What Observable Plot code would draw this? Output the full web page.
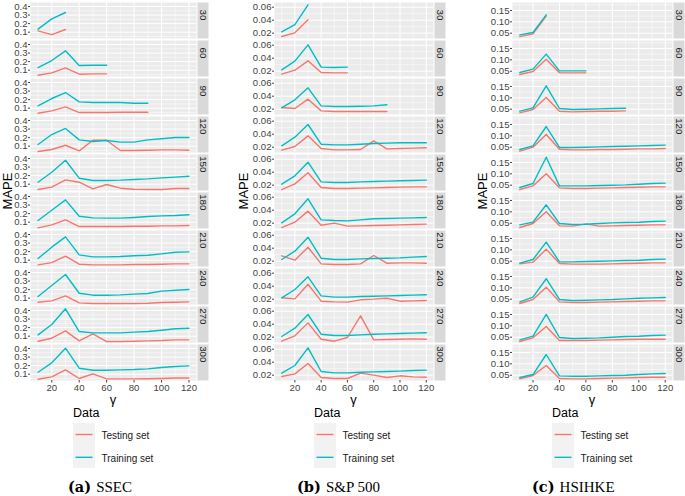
<!DOCTYPE html>
<html>
<head>
<meta charset="utf-8">
<script src="https://cdn.jsdelivr.net/npm/d3@7"></script>
<script src="https://cdn.jsdelivr.net/npm/@observablehq/plot@0.6"></script>
<style>
  body { margin: 0; background: white; }
  #wrap { position: relative; width: 685px; height: 496px; overflow: hidden; font-family: "Liberation Sans", Arial, sans-serif; }
  #wrap svg { position: absolute; top: 0; }
  .t { position: absolute; white-space: nowrap; color: #000; }
</style>
</head>
<body>
<div id="wrap"></div>
<script>
// ---------- data ----------
const gammas = [10, 20, 30, 40, 50, 60, 70, 80, 90, 100, 110, 120];
const windows = [30, 60, 90, 120, 150, 180, 210, 240, 270, 300];
const sets = ["Testing set", "Training set"];
const setColors = ["#F8766D", "#00BFC4"];
const xTicks = [20, 40, 60, 80, 100, 120];
const xMinor = [10, 30, 50, 70, 90, 110];

// SSEC
const ssecTest = [
  [0.115, 0.072, 0.131],
  [0.041, 0.069, 0.127, 0.053, 0.057, 0.057],
  [0.041, 0.069, 0.115, 0.049, 0.049, 0.049, 0.053, 0.053, 0.053],
  [0.037, 0.061, 0.111, 0.045, 0.170, 0.170, 0.049, 0.049, 0.053, 0.057, 0.057, 0.053],
  [0.037, 0.065, 0.150, 0.123, 0.045, 0.096, 0.053, 0.041, 0.037, 0.037, 0.049, 0.049],
  [0.034, 0.069, 0.127, 0.049, 0.049, 0.049, 0.049, 0.053, 0.053, 0.057, 0.057, 0.061],
  [0.045, 0.072, 0.147, 0.053, 0.045, 0.045, 0.045, 0.049, 0.049, 0.053, 0.057, 0.057],
  [0.053, 0.069, 0.127, 0.045, 0.037, 0.037, 0.037, 0.037, 0.041, 0.049, 0.053, 0.057],
  [0.041, 0.076, 0.162, 0.045, 0.127, 0.037, 0.037, 0.041, 0.045, 0.049, 0.057, 0.057],
  [0.040, 0.069, 0.151, 0.049, 0.104, 0.045, 0.045, 0.045, 0.047, 0.050, 0.055, 0.055]
];
const ssecTrain = [
  [0.135, 0.256, 0.330],
  [0.131, 0.213, 0.326, 0.154, 0.158, 0.158],
  [0.127, 0.213, 0.283, 0.174, 0.166, 0.166, 0.166, 0.158, 0.158],
  [0.119, 0.236, 0.307, 0.174, 0.154, 0.166, 0.147, 0.147, 0.174, 0.186, 0.201, 0.201],
  [0.123, 0.240, 0.380, 0.170, 0.143, 0.143, 0.147, 0.155, 0.162, 0.174, 0.182, 0.193],
  [0.119, 0.240, 0.361, 0.170, 0.150, 0.147, 0.147, 0.155, 0.166, 0.174, 0.178, 0.186],
  [0.119, 0.252, 0.373, 0.162, 0.139, 0.139, 0.143, 0.151, 0.158, 0.174, 0.193, 0.197],
  [0.119, 0.248, 0.377, 0.158, 0.135, 0.135, 0.139, 0.147, 0.154, 0.182, 0.193, 0.201],
  [0.115, 0.236, 0.420, 0.154, 0.139, 0.139, 0.139, 0.147, 0.154, 0.170, 0.186, 0.193],
  [0.123, 0.233, 0.404, 0.170, 0.146, 0.146, 0.150, 0.154, 0.162, 0.178, 0.190, 0.197]
];

// S&P 500
const spTest = [
  [0.0149, 0.0205, 0.0405],
  [0.0154, 0.0215, 0.0359, 0.0180, 0.0174, 0.0174],
  [0.0226, 0.0210, 0.0354, 0.0174, 0.0164, 0.0164, 0.0164, 0.0164, 0.0164],
  [0.0154, 0.0210, 0.0374, 0.0180, 0.0159, 0.0159, 0.0164, 0.0297, 0.0174, 0.0180, 0.0185, 0.0190],
  [0.0133, 0.0220, 0.0390, 0.0164, 0.0149, 0.0149, 0.0154, 0.0159, 0.0164, 0.0170, 0.0174, 0.0174],
  [0.0133, 0.0215, 0.0385, 0.0169, 0.0200, 0.0154, 0.0159, 0.0164, 0.0169, 0.0174, 0.0180, 0.0185],
  [0.0282, 0.0215, 0.0415, 0.0159, 0.0149, 0.0149, 0.0159, 0.0287, 0.0169, 0.0174, 0.0174, 0.0169],
  [0.0221, 0.0205, 0.0430, 0.0169, 0.0159, 0.0154, 0.0190, 0.0200, 0.0215, 0.0169, 0.0174, 0.0180],
  [0.0138, 0.0221, 0.0420, 0.0169, 0.0138, 0.0195, 0.0528, 0.0159, 0.0164, 0.0169, 0.0174, 0.0169],
  [0.0179, 0.0220, 0.0380, 0.0164, 0.0149, 0.0149, 0.0231, 0.0200, 0.0164, 0.0190, 0.0174, 0.0169]
];
const spTrain = [
  [0.0221, 0.0333, 0.0636],
  [0.0221, 0.0354, 0.0605, 0.0262, 0.0256, 0.0262],
  [0.0221, 0.0344, 0.0528, 0.0251, 0.0241, 0.0241, 0.0246, 0.0251, 0.0267],
  [0.0221, 0.0354, 0.0549, 0.0246, 0.0236, 0.0236, 0.0246, 0.0256, 0.0262, 0.0267, 0.0267, 0.0267],
  [0.0215, 0.0344, 0.0554, 0.0250, 0.0240, 0.0240, 0.0250, 0.0256, 0.0262, 0.0267, 0.0272, 0.0277],
  [0.0205, 0.0344, 0.0575, 0.0251, 0.0241, 0.0236, 0.0251, 0.0267, 0.0272, 0.0277, 0.0282, 0.0287],
  [0.0226, 0.0354, 0.0569, 0.0246, 0.0226, 0.0226, 0.0236, 0.0241, 0.0246, 0.0251, 0.0262, 0.0272],
  [0.0221, 0.0349, 0.0544, 0.0251, 0.0231, 0.0231, 0.0241, 0.0246, 0.0251, 0.0256, 0.0262, 0.0267],
  [0.0210, 0.0338, 0.0549, 0.0246, 0.0226, 0.0226, 0.0236, 0.0246, 0.0251, 0.0256, 0.0262, 0.0267],
  [0.0231, 0.0349, 0.0621, 0.0256, 0.0236, 0.0236, 0.0246, 0.0251, 0.0256, 0.0262, 0.0272, 0.0277]
];

// HSIHKE
const hsiTest = [
  [0.035, 0.047, 0.125],
  [0.0355, 0.0487, 0.103, 0.0428, 0.0428, 0.0428],
  [0.034, 0.0487, 0.101, 0.0413, 0.0384, 0.040, 0.0413, 0.0413, 0.0428],
  [0.0325, 0.050, 0.106, 0.0413, 0.0384, 0.0384, 0.040, 0.040, 0.0413, 0.0428, 0.0428, 0.0443],
  [0.031, 0.047, 0.100, 0.0384, 0.0355, 0.0355, 0.037, 0.0384, 0.0399, 0.0413, 0.0428, 0.0428],
  [0.031, 0.0487, 0.100, 0.0384, 0.037, 0.0472, 0.037, 0.0384, 0.0399, 0.0413, 0.0428, 0.0428],
  [0.0384, 0.0457, 0.103, 0.0399, 0.037, 0.037, 0.037, 0.0384, 0.0399, 0.0413, 0.0428, 0.0428],
  [0.031, 0.0487, 0.103, 0.0384, 0.0355, 0.0355, 0.037, 0.0384, 0.0399, 0.0413, 0.0428, 0.0428],
  [0.031, 0.0472, 0.097, 0.0355, 0.0355, 0.0355, 0.037, 0.0384, 0.0399, 0.0413, 0.0413, 0.0413],
  [0.034, 0.0487, 0.0927, 0.0355, 0.034, 0.034, 0.0355, 0.037, 0.0384, 0.0399, 0.0413, 0.0413]
];
const hsiTrain = [
  [0.0428, 0.053, 0.1308],
  [0.0443, 0.059, 0.125, 0.0516, 0.0516, 0.0516],
  [0.0413, 0.056, 0.153, 0.0531, 0.0487, 0.050, 0.0516, 0.053, 0.0545],
  [0.0399, 0.056, 0.141, 0.0487, 0.0487, 0.050, 0.0516, 0.053, 0.0545, 0.056, 0.0575, 0.059],
  [0.0399, 0.0575, 0.173, 0.0472, 0.0472, 0.0472, 0.0487, 0.050, 0.0516, 0.0545, 0.0575, 0.059],
  [0.0428, 0.0545, 0.131, 0.0487, 0.0443, 0.0457, 0.0487, 0.0516, 0.053, 0.0545, 0.0575, 0.059],
  [0.0413, 0.0575, 0.134, 0.0472, 0.0472, 0.0487, 0.050, 0.0516, 0.053, 0.0545, 0.0575, 0.059],
  [0.0384, 0.059, 0.140, 0.0487, 0.0443, 0.0457, 0.0472, 0.0487, 0.0516, 0.0545, 0.056, 0.0575],
  [0.0384, 0.0545, 0.150, 0.0487, 0.0443, 0.0457, 0.0472, 0.050, 0.053, 0.0545, 0.0575, 0.059],
  [0.0399, 0.053, 0.141, 0.0472, 0.0457, 0.0457, 0.0472, 0.0487, 0.050, 0.053, 0.056, 0.0575]
];

const ssecYTicks = [0.1, 0.2, 0.3, 0.4];
const ssecYMinor = [0.05, 0.15, 0.25, 0.35];
const spYTicks = [0.02, 0.04, 0.06];
const spYMinor = [0.03, 0.05];
const hsiYTicks = [0.05, 0.10, 0.15];
const hsiYMinor = [0.075, 0.125, 0.175];

// ---------- drawing ----------
const wrap = document.getElementById("wrap");
const H = 400;
const NS = "http://www.w3.org/2000/svg";

function buildRows(test, train) {
  const rows = [];
  windows.forEach((w, i) => {
    test[i].forEach((v, j) => rows.push({w, g: gammas[j], v, set: sets[0]}));
    train[i].forEach((v, j) => rows.push({w, g: gammas[j], v, set: sets[1]}));
  });
  return rows;
}

function addText(txt, x, y, css) {
  const d = document.createElement("div");
  d.className = "t";
  d.textContent = txt;
  d.style.cssText += `left:${x}px;top:${y}px;` + css;
  wrap.appendChild(d);
}

function legendKeys(x) {
  const s = document.createElementNS(NS, "svg");
  s.setAttribute("width", 22);
  s.setAttribute("height", 46);
  s.style.left = x + "px";
  s.style.top = "423px";
  const bg = document.createElementNS(NS, "rect");
  bg.setAttribute("width", 22); bg.setAttribute("height", 45); bg.setAttribute("fill", "#F2F2F2");
  s.appendChild(bg);
  sets.forEach((name, i) => {
    const l = document.createElementNS(NS, "line");
    const y = 11.5 + i * 22.8;
    l.setAttribute("x1", 2.5); l.setAttribute("x2", 19.5);
    l.setAttribute("y1", y); l.setAttribute("y2", y);
    l.setAttribute("stroke", setColors[i]);
    l.setAttribute("stroke-width", 1.4);
    s.appendChild(l);
  });
  wrap.appendChild(s);
}

function panel({test, train, yDomain, yTicks, yMinor, yFormat, left, width, marginLeft, marginRight, title, mapeX, legendX, capX, tag}) {
  const rows = buildRows(test, train);
  const pw = width - marginLeft - marginRight;
  const svg = Plot.plot({
    width, height: H,
    marginLeft, marginRight, marginTop: 2, marginBottom: 20,
    style: {fontFamily: '"Liberation Sans", Arial, sans-serif', fontSize: "9.6px", background: "transparent", color: "#444"},
    x: {domain: [4.5, 125.5]},
    y: {domain: yDomain},
    fy: {domain: windows, paddingInner: 2 / 38, paddingOuter: 0, round: false, axis: null},
    color: {domain: sets, range: setColors},
    marks: [
      Plot.frame({fill: "#EBEBEB"}),
      Plot.gridX({ticks: xMinor, stroke: "white", strokeOpacity: 1, strokeWidth: 0.5}),
      Plot.gridY({ticks: yMinor, stroke: "white", strokeOpacity: 1, strokeWidth: 0.5}),
      Plot.gridX({ticks: xTicks, stroke: "white", strokeOpacity: 1, strokeWidth: 1}),
      Plot.gridY({ticks: yTicks, stroke: "white", strokeOpacity: 1, strokeWidth: 1}),
      Plot.frame({fill: "#D9D9D9", insetLeft: pw + 1, insetRight: -12}),
      Plot.text(windows, {fy: d => d, text: d => String(d), frameAnchor: "right", dx: 6.5, rotate: 90, fill: "#1A1A1A", fontSize: 9.8}),
      Plot.axisY({ticks: yTicks, tickFormat: yFormat, tickSize: 2, tickPadding: 1, label: null, color: "#444"}),
      Plot.axisX({ticks: xTicks, tickSize: 2.5, tickPadding: 1, label: null, color: "#444"}),
      Plot.line(rows, {x: "g", y: "v", z: "set", stroke: "set", fy: "w", strokeWidth: 1.4})
    ]
  });
  svg.style.left = left + "px";
  wrap.appendChild(svg);

  const px = left + marginLeft + pw / 2;
  addText("MAPE", mapeX, 191, "font-size:13px;transform:translate(-50%,-50%) rotate(-90deg);");
  addText("γ", px, 399, "font-size:13px;transform:translate(-50%,-50%);");
  addText("Data", legendX, 413, "font-size:12.5px;transform:translate(0,-50%);");
  legendKeys(legendX);
  sets.forEach((s, i) => {
    addText(s, legendX + 28.5, 435 + i * 22.8, "font-size:10px;transform:translate(0,-50%);color:#1a1a1a;");
  });
  const cap = document.createElement("div");
  cap.className = "t";
  cap.style.cssText += `left:${capX}px;top:487px;transform:translate(0,-50%);`;
  cap.innerHTML = `<span style="font-family:'DejaVu Serif',serif;font-weight:bold;font-size:14.5px;">(${tag})</span><span style="font-family:'Liberation Serif',serif;font-size:15px;margin-left:5px;">${title}</span>`;
  wrap.appendChild(cap);
}

panel({test: ssecTest, train: ssecTrain, yDomain: [0.026, 0.447], yTicks: ssecYTicks, yMinor: ssecYMinor, yFormat: d3.format(".1f"),
  left: 0, width: 210, marginLeft: 30, marginRight: 14, title: "SSEC", tag: "a", mapeX: 6.5, legendX: 73, capX: 68});
panel({test: spTest, train: spTrain, yDomain: [0.0118, 0.0672], yTicks: spYTicks, yMinor: spYMinor, yFormat: d3.format(".2f"),
  left: 226, width: 222, marginLeft: 48, marginRight: 15, title: "S&amp;P 500", tag: "b", mapeX: 243, legendX: 314, capX: 297});
panel({test: hsiTest, train: hsiTrain, yDomain: [0.0267, 0.185], yTicks: hsiYTicks, yMinor: hsiYMinor, yFormat: d3.format(".2f"),
  left: 460, width: 225, marginLeft: 52, marginRight: 13, title: "HSIHKE", tag: "c", mapeX: 482, legendX: 552, capX: 532});
</script>
</body>
</html>
